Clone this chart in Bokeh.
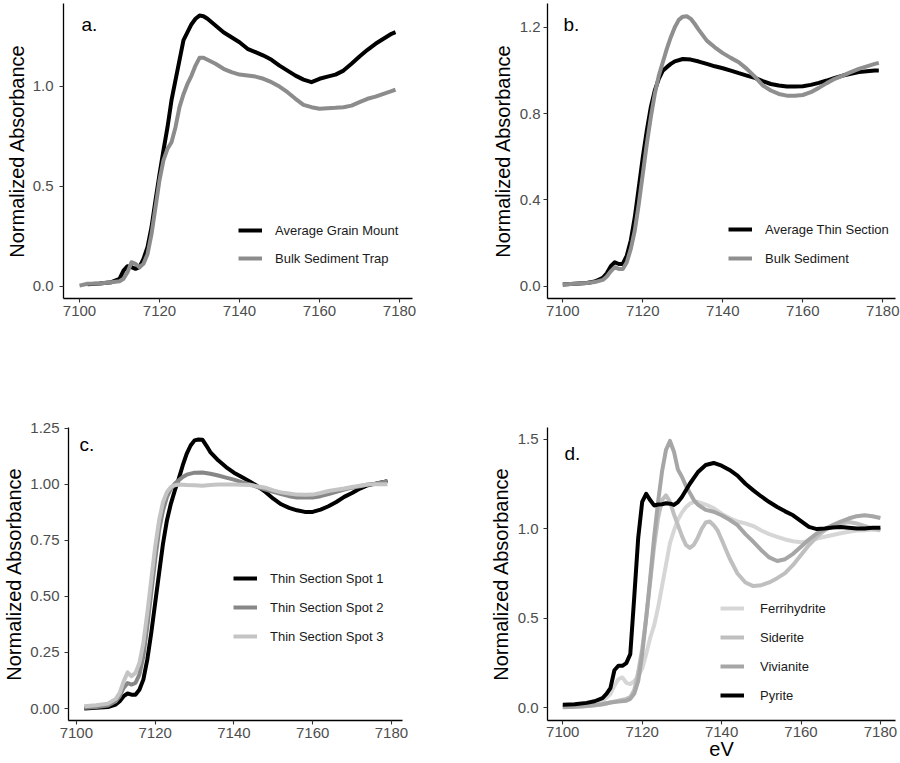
from bokeh.plotting import figure
from bokeh.models import Range1d, FixedTicker, Legend, LegendItem, Label
from bokeh.layouts import column, row
from bokeh.embed import file_html
from bokeh.resources import INLINE

FONT = "Liberation Sans"

# ---------------- data ----------------
x_ticks = [7100, 7120, 7140, 7160, 7180]
x_tick_labels = ["7100", "7120", "7140", "7160", "7180"]

# panel a
ev_a_grain = [7102, 7105, 7108, 7110, 7111, 7112, 7113, 7114, 7115, 7116, 7117, 7118, 7119, 7120,
              7121, 7122, 7123, 7124, 7125, 7126, 7127, 7128, 7129, 7130, 7131, 7132, 7134, 7136,
              7138, 7140, 7142, 7144, 7146, 7148, 7150, 7152, 7154, 7156, 7158, 7160, 7162, 7164,
              7166, 7168, 7170, 7172, 7174, 7176, 7178, 7179]
avg_grain_mount = [0.01, 0.013, 0.02, 0.037, 0.078, 0.10, 0.095, 0.087, 0.095, 0.137, 0.195, 0.295,
                   0.43, 0.56, 0.68, 0.795, 0.93, 1.03, 1.13, 1.23, 1.27, 1.31, 1.337, 1.353, 1.35,
                   1.337, 1.303, 1.27, 1.245, 1.22, 1.187, 1.17, 1.153, 1.132, 1.103, 1.078, 1.053,
                   1.033, 1.02, 1.037, 1.048, 1.058, 1.078, 1.112, 1.148, 1.182, 1.212, 1.237, 1.262,
                   1.27]
ev_a_trap = [7100, 7102, 7105, 7108, 7110, 7111, 7112, 7113, 7114, 7115, 7116, 7117, 7118, 7119,
             7120, 7121, 7122, 7123, 7124, 7125, 7126, 7127, 7128, 7129, 7130, 7131, 7132, 7134,
             7136, 7138, 7140, 7142, 7144, 7146, 7148, 7150, 7152, 7154, 7156, 7158, 7160, 7162,
             7164, 7166, 7168, 7170, 7172, 7174, 7176, 7178, 7179]
bulk_sediment_trap = [0.003, 0.012, 0.013, 0.02, 0.025, 0.037, 0.07, 0.12, 0.112, 0.095, 0.112, 0.16,
                      0.26, 0.395, 0.53, 0.63, 0.687, 0.72, 0.795, 0.895, 0.96, 1.012, 1.053, 1.103,
                      1.142, 1.142, 1.132, 1.112, 1.087, 1.07, 1.058, 1.053, 1.048, 1.037, 1.02,
                      0.998, 0.97, 0.937, 0.907, 0.895, 0.887, 0.89, 0.892, 0.895, 0.903, 0.92, 0.937,
                      0.948, 0.962, 0.975, 0.983]
a_yticks = [0.0, 0.5, 1.0]
a_ytick_labels = ["0.0", "0.5", "1.0"]

# panel b
ev_b_thin = [7100, 7103, 7106, 7108, 7110, 7111, 7112, 7113, 7114, 7115, 7116, 7117, 7118, 7119,
             7120, 7121, 7122, 7123, 7124, 7125, 7126, 7127, 7128, 7130, 7132, 7134, 7136, 7138,
             7140, 7142, 7144, 7146, 7148, 7150, 7152, 7154, 7156, 7158, 7160, 7162, 7164, 7166,
             7168, 7170, 7172, 7174, 7176, 7178, 7179]
avg_thin_section = [0.008, 0.011, 0.015, 0.022, 0.039, 0.06, 0.093, 0.111, 0.103, 0.103, 0.142, 0.212,
                    0.32, 0.459, 0.598, 0.721, 0.829, 0.907, 0.961, 0.999, 1.015, 1.03, 1.042, 1.053,
                    1.05, 1.041, 1.03, 1.019, 1.01, 0.999, 0.987, 0.976, 0.965, 0.95, 0.937, 0.93,
                    0.925, 0.925, 0.927, 0.933, 0.942, 0.953, 0.965, 0.976, 0.984, 0.992, 0.996, 0.999,
                    0.999]
ev_b_bulk = [7100, 7103, 7106, 7108, 7110, 7111, 7112, 7113, 7114, 7115, 7116, 7117, 7118, 7119,
             7120, 7121, 7122, 7123, 7124, 7125, 7126, 7127, 7128, 7129, 7130, 7131, 7132, 7133,
             7134, 7136, 7138, 7140, 7142, 7144, 7146, 7148, 7150, 7152, 7154, 7156, 7158, 7160,
             7162, 7164, 7166, 7168, 7170, 7172, 7174, 7176, 7178, 7179]
bulk_sediment = [0.008, 0.011, 0.015, 0.019, 0.029, 0.045, 0.069, 0.088, 0.08, 0.08, 0.111, 0.173,
                 0.258, 0.381, 0.52, 0.659, 0.783, 0.891, 0.976, 1.038, 1.10, 1.154, 1.2, 1.234,
                 1.249, 1.251, 1.239, 1.215, 1.188, 1.138, 1.107, 1.08, 1.058, 1.038, 1.007, 0.971,
                 0.93, 0.907, 0.891, 0.883, 0.882, 0.886, 0.899, 0.919, 0.941, 0.961, 0.976, 0.992,
                 1.007, 1.019, 1.03, 1.035]
b_yticks = [0.0, 0.4, 0.8, 1.2]
b_ytick_labels = ["0.0", "0.4", "0.8", "1.2"]

# panel c
ev_c1 = [7102, 7105, 7108, 7110, 7111, 7112, 7113, 7114, 7115, 7116, 7117, 7118, 7119, 7120, 7121,
         7122, 7123, 7124, 7125, 7126, 7127, 7128, 7129, 7130, 7131, 7132, 7133, 7134, 7136, 7138,
         7140, 7142, 7144, 7146, 7148, 7150, 7152, 7154, 7156, 7158, 7160, 7162, 7164, 7166, 7168,
         7170, 7172, 7174, 7176, 7178, 7179]
spot1 = [0.0, 0.003, 0.007, 0.018, 0.033, 0.055, 0.067, 0.062, 0.062, 0.084, 0.129, 0.218, 0.336,
         0.47, 0.603, 0.736, 0.84, 0.914, 0.973, 1.025, 1.084, 1.136, 1.173, 1.196, 1.2, 1.199, 1.173,
         1.144, 1.107, 1.077, 1.052, 1.033, 1.013, 0.991, 0.966, 0.936, 0.911, 0.895, 0.884, 0.877,
         0.877, 0.887, 0.902, 0.921, 0.944, 0.961, 0.981, 0.996, 1.003, 1.01, 1.015]
ev_c2 = [7102, 7105, 7108, 7110, 7111, 7112, 7113, 7114, 7115, 7116, 7117, 7118, 7119, 7120, 7121,
         7122, 7123, 7124, 7125, 7126, 7127, 7128, 7130, 7132, 7134, 7136, 7138, 7140, 7142, 7144,
         7146, 7148, 7150, 7152, 7154, 7156, 7158, 7160, 7162, 7164, 7166, 7168, 7170, 7172, 7174,
         7176, 7178, 7179]
spot2 = [0.003, 0.007, 0.013, 0.033, 0.055, 0.092, 0.114, 0.107, 0.114, 0.151, 0.233, 0.366, 0.514,
         0.662, 0.796, 0.884, 0.944, 0.981, 1.003, 1.018, 1.033, 1.043, 1.052, 1.053, 1.047, 1.039,
         1.03, 1.021, 1.01, 1.0, 0.988, 0.976, 0.966, 0.956, 0.947, 0.941, 0.941, 0.941, 0.947, 0.956,
         0.966, 0.976, 0.985, 0.991, 0.999, 1.003, 1.01, 1.015]
ev_c3 = [7102, 7105, 7108, 7110, 7111, 7112, 7113, 7114, 7115, 7116, 7117, 7118, 7119, 7120, 7121,
         7122, 7123, 7124, 7125, 7126, 7128, 7130, 7132, 7134, 7136, 7140, 7144, 7148, 7150, 7152,
         7154, 7156, 7158, 7160, 7162, 7164, 7166, 7168, 7170, 7172, 7174, 7176, 7178, 7179]
spot3 = [0.01, 0.015, 0.022, 0.043, 0.07, 0.121, 0.161, 0.144, 0.159, 0.203, 0.292, 0.425, 0.573,
         0.721, 0.84, 0.921, 0.966, 0.988, 0.996, 0.999, 0.997, 0.996, 0.994, 0.997, 0.999, 0.999,
         0.997, 0.985, 0.973, 0.964, 0.959, 0.954, 0.953, 0.954, 0.961, 0.97, 0.976, 0.981, 0.988,
         0.994, 0.999, 1.0, 1.0, 1.0]
c_yticks = [0.0, 0.25, 0.5, 0.75, 1.0, 1.25]
c_ytick_labels = ["0.00", "0.25", "0.50", "0.75", "1.00", "1.25"]

# panel d
ev_d_fer = [7100, 7105, 7108, 7110, 7112, 7113, 7114, 7115, 7116, 7117, 7118, 7119, 7120, 7121, 7122,
            7123, 7124, 7125, 7126, 7127, 7128, 7129, 7130, 7131, 7132, 7133, 7134, 7136, 7138, 7140,
            7142, 7144, 7146, 7148, 7150, 7152, 7154, 7156, 7158, 7160, 7162, 7164, 7166, 7168, 7170,
            7172, 7174, 7176, 7178, 7180]
ferrihydrite = [0.007, 0.013, 0.022, 0.037, 0.078, 0.124, 0.16, 0.17, 0.14, 0.133, 0.15, 0.175, 0.22,
                0.3, 0.39, 0.46, 0.56, 0.68, 0.80, 0.92, 0.99, 1.05, 1.09, 1.12, 1.14, 1.148, 1.15,
                1.135, 1.115, 1.084, 1.06, 1.04, 1.03, 1.015, 0.99, 0.97, 0.955, 0.94, 0.93, 0.925,
                0.93, 0.945, 0.955, 0.965, 0.975, 0.983, 0.99, 0.992, 0.995, 0.992]
ev_d_sid = [7100, 7105, 7108, 7110, 7112, 7114, 7116, 7117, 7118, 7119, 7120, 7121, 7122, 7123, 7124,
            7125, 7126, 7127, 7128, 7129, 7130, 7131, 7132, 7133, 7134, 7135, 7136, 7137, 7138, 7139,
            7140, 7142, 7144, 7146, 7148, 7150, 7152, 7154, 7156, 7158, 7160, 7162, 7164, 7166, 7168,
            7170, 7172, 7174, 7176, 7178, 7180]
siderite = [0.005, 0.01, 0.015, 0.02, 0.03, 0.04, 0.05, 0.06, 0.1, 0.2, 0.33, 0.5, 0.7, 0.9, 1.06,
            1.16, 1.186, 1.15, 1.08, 1.02, 0.96, 0.91, 0.893, 0.91, 0.95, 1.0, 1.035, 1.04, 1.02, 0.99,
            0.94, 0.835, 0.75, 0.7, 0.68, 0.685, 0.7, 0.724, 0.752, 0.798, 0.853, 0.909, 0.955, 0.992,
            1.016, 1.029, 1.038, 1.029, 1.016, 1.001, 0.992]
ev_d_viv = [7100, 7105, 7108, 7110, 7112, 7114, 7116, 7117, 7118, 7119, 7120, 7121, 7122, 7123, 7124,
            7125, 7126, 7127, 7128, 7129, 7130, 7131, 7132, 7133, 7134, 7135, 7136, 7138, 7140, 7142,
            7144, 7146, 7148, 7150, 7152, 7154, 7156, 7158, 7160, 7162, 7164, 7166, 7168, 7170, 7172,
            7174, 7176, 7178, 7180]
vivianite = [0.003, 0.008, 0.015, 0.02, 0.03, 0.035, 0.04, 0.05, 0.08, 0.15, 0.3, 0.5, 0.72, 0.95,
             1.15, 1.32, 1.44, 1.49, 1.43, 1.33, 1.29, 1.24, 1.2, 1.16, 1.135, 1.12, 1.105, 1.095,
             1.075, 1.05, 1.02, 0.97, 0.927, 0.88, 0.84, 0.82, 0.83, 0.86, 0.9, 0.94, 0.974, 1.0, 1.02,
             1.04, 1.057, 1.07, 1.075, 1.07, 1.06]
ev_d_pyr = [7100, 7103, 7106, 7108, 7110, 7111, 7112, 7113, 7114, 7115, 7116, 7117, 7118, 7119, 7120,
            7121, 7122, 7123, 7124, 7125, 7126, 7127, 7128, 7129, 7130, 7132, 7134, 7136, 7138, 7140,
            7142, 7144, 7146, 7148, 7150, 7152, 7154, 7156, 7158, 7160, 7162, 7164, 7166, 7168, 7170,
            7172, 7174, 7176, 7178, 7180]
pyrite = [0.018, 0.02, 0.028, 0.037, 0.055, 0.078, 0.11, 0.21, 0.235, 0.235, 0.25, 0.3, 0.62, 0.95,
          1.15, 1.195, 1.16, 1.13, 1.135, 1.137, 1.142, 1.14, 1.133, 1.149, 1.177, 1.251, 1.315, 1.356,
          1.367, 1.352, 1.328, 1.297, 1.251, 1.214, 1.18, 1.149, 1.121, 1.097, 1.075, 1.042, 1.01,
          0.998, 1.001, 1.007, 1.009, 1.005, 1.001, 1.001, 1.005, 1.005]
d_yticks = [0.0, 0.5, 1.0, 1.5]
d_ytick_labels = ["0.0", "0.5", "1.0", "1.5"]


def make_panel(width, height, borders, xr, yr, yticks, ytick_labels, series, legend_loc,
               legend_spacing, label_standoff, tag, tag_xy, ylab_standoff, ymaj_standoff,
               xlabel=None):
    left, right, top, bottom = borders
    p = figure(width=width, height=height, output_backend="svg", toolbar_location=None,
               x_range=Range1d(*xr), y_range=Range1d(*yr),
               min_border_left=left, min_border_right=right,
               min_border_top=top, min_border_bottom=bottom)
    p.outline_line_color = None
    p.background_fill_color = "white"
    p.border_fill_color = "white"
    p.xgrid.visible = False
    p.ygrid.visible = False

    p.xaxis.ticker = FixedTicker(ticks=x_ticks)
    p.xaxis.major_label_overrides = dict(zip(x_ticks, x_tick_labels))
    p.yaxis.ticker = FixedTicker(ticks=yticks)
    p.yaxis.major_label_overrides = dict(zip(yticks, ytick_labels))
    for ax in (p.xaxis[0], p.yaxis[0]):
        ax.axis_line_color = "black"
        ax.axis_line_width = 1.3
        ax.major_tick_line_color = "#333333"
        ax.major_tick_line_width = 1.1
        ax.major_tick_out = 4
        ax.major_tick_in = 0
        ax.minor_tick_out = 0
        ax.minor_tick_in = 0
        ax.major_label_text_font = FONT
        ax.major_label_text_font_size = "15px"
        ax.major_label_text_color = "#4D4D4D"
        ax.axis_label_text_font = FONT
        ax.axis_label_text_font_size = "20px"
        ax.axis_label_text_font_style = "normal"
        ax.axis_label_text_color = "black"
    p.xaxis.major_label_standoff = 3
    p.yaxis.major_label_standoff = ymaj_standoff
    p.yaxis.axis_label = "Normalized Absorbance"
    p.yaxis.axis_label_standoff = ylab_standoff
    if xlabel:
        p.xaxis.axis_label = xlabel
        p.xaxis.axis_label_standoff = -2
        p.xaxis.major_label_standoff = 2

    items = []
    for xs, ys, name, color in series:
        r = p.line(xs, ys, line_color=color, line_width=4, line_join="round")
        items.append(LegendItem(label=name, renderers=[r]))
    leg = Legend(items=items, location=legend_loc, padding=0, margin=0,
                 spacing=legend_spacing, glyph_width=24, glyph_height=20, label_height=20,
                 label_standoff=label_standoff, label_text_font=FONT,
                 label_text_font_size="13px", label_text_color="#1a1a1a",
                 border_line_alpha=0, background_fill_alpha=0)
    p.add_layout(leg, "center")

    p.add_layout(Label(x=tag_xy[0], y=tag_xy[1], x_units="screen", y_units="screen", text=tag,
                       text_font=FONT, text_font_size="19px", text_color="black",
                       text_baseline="alphabetic"))
    return p


pa = make_panel(450, 380, (63, 38, 3, 82), (7096.0, 7183.25), (-0.0615, 1.4135),
                a_yticks, a_ytick_labels,
                [(ev_a_grain, avg_grain_mount, "Average Grain Mount", "#000000"),
                 (ev_a_trap, bulk_sediment_trap, "Bulk Sediment Trap", "#8C8C8C")],
                (175, 30), 8, 13, "a.", (18, 274), 2, 6)

pb = make_panel(450, 380, (97, 5, 3, 82), (7096.175, 7183.175), (-0.057, 1.310),
                b_yticks, b_ytick_labels,
                [(ev_b_thin, avg_thin_section, "Average Thin Section", "#000000"),
                 (ev_b_bulk, bulk_sediment, "Bulk Sediment", "#8F8F8F")],
                (181, 30), 9, 13, "b.", (16, 274), 3, 3)

pc = make_panel(450, 383, (62, 48, 47, 42), (7098.0, 7182.8), (-0.0533, 1.2533),
                c_yticks, c_ytick_labels,
                [(ev_c1, spot1, "Thin Section Spot 1", "#000000"),
                 (ev_c2, spot2, "Thin Section Spot 2", "#878787"),
                 (ev_c3, spot3, "Thin Section Spot 3", "#C4C4C4")],
                (165, 74), 9, 13, "c.", (11, 276), 2, 5)

pd_ = make_panel(450, 383, (97, 5, 45, 43), (7096.15, 7183.8), (-0.0704, 1.565),
                 d_yticks, d_ytick_labels,
                 [(ev_d_fer, ferrihydrite, "Ferrihydrite", "#D6D6D6"),
                  (ev_d_sid, siderite, "Siderite", "#BFBFBF"),
                  (ev_d_viv, vivianite, "Vivianite", "#A6A6A6"),
                  (ev_d_pyr, pyrite, "Pyrite", "#000000")],
                 (173, 15), 9, 16, "d.", (17, 267), 3, 5, xlabel="eV")

layout = column(row(pa, pb), row(pc, pd_))
open("out.html", "w").write(file_html(layout, INLINE))
